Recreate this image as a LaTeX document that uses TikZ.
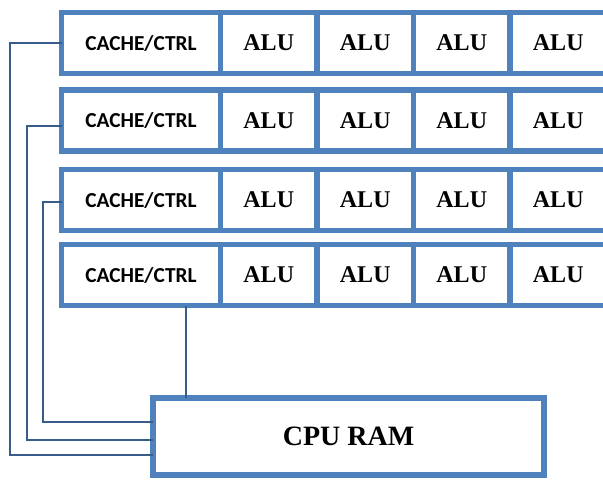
\documentclass[tikz,border=0pt]{standalone}
\usepackage{fontspec}
\setmainfont{Liberation Serif}
\newfontfamily\ctrlfont{Carlito}
\usetikzlibrary{positioning}
\definecolor{cellblue}{HTML}{4F81BD}
\definecolor{wireblue}{HTML}{385D8A}
\newcommand{\px}{0.75pt}

\begin{document}
\begin{tikzpicture}[
  x=0.75pt,
  y=-0.75pt,
  node distance=0pt,
  every node/.style={inner sep=0pt, outer sep=0pt},
  cell/.style={draw=cellblue, line width=4pt, minimum height=61*\px},
  ctrl/.style={cell, minimum width=159*\px, font=\ctrlfont\bfseries\fontsize{16}{18}\selectfont},
  alu/.style={cell, minimum width=96.5*\px, font=\bfseries\fontsize{18}{20}\selectfont},
  ram/.style={draw=cellblue, line width=4.2pt, minimum width=391*\px, minimum height=77*\px,
    font=\bfseries\fontsize{21}{24}\selectfont},
  wire/.style={wireblue, line width=1.1pt}
]
  % ---- page frame, same size as the reference ----
  \useasboundingbox (0,0) rectangle (603,479);

  % ---- row 1 ----
  \node[ctrl] (c1) at (141,43) {CACHE/CTRL};
  \node[alu, right=of c1] (a11) {ALU};
  \node[alu, right=of a11] (a12) {ALU};
  \node[alu, right=of a12] (a13) {ALU};
  \node[alu, right=of a13] (a14) {ALU};

  % ---- row 2 ----
  \node[ctrl] (c2) at (141,120.5) {CACHE/CTRL};
  \node[alu, right=of c2] (a21) {ALU};
  \node[alu, right=of a21] (a22) {ALU};
  \node[alu, right=of a22] (a23) {ALU};
  \node[alu, right=of a23] (a24) {ALU};

  % ---- row 3 ----
  \node[ctrl] (c3) at (141,200) {CACHE/CTRL};
  \node[alu, right=of c3] (a31) {ALU};
  \node[alu, right=of a31] (a32) {ALU};
  \node[alu, right=of a32] (a33) {ALU};
  \node[alu, right=of a33] (a34) {ALU};

  % ---- row 4 ----
  \node[ctrl] (c4) at (141,275) {CACHE/CTRL};
  \node[alu, right=of c4] (a41) {ALU};
  \node[alu, right=of a41] (a42) {ALU};
  \node[alu, right=of a42] (a43) {ALU};
  \node[alu, right=of a43] (a44) {ALU};

  % ---- memory ----
  \node[ram] (ram) at (348.5,436.5) {CPU RAM};

  % ---- wires into the memory ----
  \draw[wire] (c1.west) -| (10,455) -- (ram.west |- 0,455);
  \draw[wire] (c2.west |- 0,126) -| (27,440) -- (ram.west |- 0,440);
  \draw[wire] (c3.west |- 0,202) -| (43,422) -- (ram.west |- 0,422);
  \draw[wire] (c4.south -| 186,0) -- (ram.north -| 186,0);
\end{tikzpicture}
\end{document}
